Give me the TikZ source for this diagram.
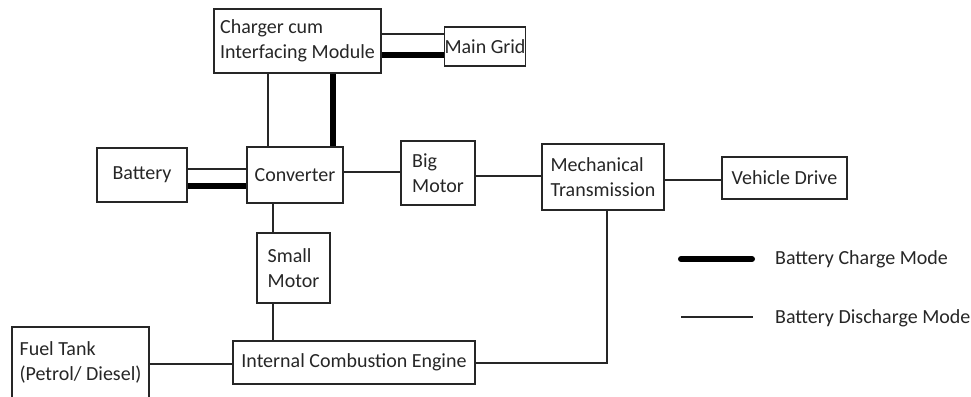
\documentclass[tikz,border=0pt]{standalone}
\usepackage{fontspec}
\setmainfont{Carlito}
\tikzstyle{block}=[draw=black!85,line width=1.2pt,inner sep=0pt,align=left,text=black!85,font=\fontsize{20}{24.5}\selectfont]
\tikzstyle{discharge}=[draw=black!85,line width=1.3pt]
\tikzstyle{charge}=[draw=black,line width=5.5pt]
\tikzstyle{legendtext}=[anchor=west,inner sep=0pt,text=black!85,font=\fontsize{20}{24.5}\selectfont]

\begin{document}
\begin{tikzpicture}[x=1pt,y=1pt]
	\useasboundingbox (0,0) rectangle (971,396);
	% blocks
	\node[block,minimum width=167pt,minimum height=64pt] (charger) at (297.5,355) {Charger cum\\Interfacing Module};
	\node[block,minimum width=80pt,minimum height=39pt] (grid) at (485,349.5) {Main Grid};
	\node[block,minimum width=90pt,minimum height=54pt] (battery) at (142,221) {Battery};
	\node[block,minimum width=96pt,minimum height=56pt] (converter) at (295,221) {Converter};
	\node[block,minimum width=74pt,minimum height=64pt] (bigmotor) at (438,223) {Big\\Motor};
	\node[block,minimum width=122pt,minimum height=66pt] (mechanical) at (603,219) {Mechanical\\Transmission};
	\node[block,minimum width=125pt,minimum height=42pt] (vehicle) at (784.5,218) {Vehicle Drive};
	\node[block,minimum width=73pt,minimum height=70pt] (smallmotor) at (293.5,128) {Small\\Motor};
	\node[block,minimum width=242pt,minimum height=43pt] (engine) at (354,33.5) {Internal Combustion Engine};
	\node[block,minimum width=137pt,minimum height=71pt] (fueltank) at (80.5,33.5) {Fuel Tank\\(Petrol/ Diesel)};

	% discharge mode
	\draw[discharge] ([yshift=7pt]charger.east) -- ([yshift=12.5pt]grid.west);
	\draw[discharge] ([xshift=-29.5pt]charger.south) -- ([xshift=-27pt]converter.north);
	\draw[discharge] ([yshift=6pt]battery.east) -- ([yshift=6pt]converter.west);
	\draw[discharge] ([yshift=3pt]converter.east) -- ([yshift=1pt]bigmotor.west);
	\draw[discharge] ([yshift=-3pt]bigmotor.east) -- ([yshift=1pt]mechanical.west);
	\draw[discharge] ([yshift=-3pt]mechanical.east) -- ([yshift=-2pt]vehicle.west);
	\draw[discharge] ([xshift=-22pt]converter.south) -- ([xshift=-20.5pt]smallmotor.north);
	\draw[discharge] ([xshift=-20.5pt]smallmotor.south) -- ([xshift=-81pt]engine.north);
	\draw[discharge] ([yshift=-1.5pt]fueltank.east) -- ([yshift=-1.5pt]engine.west);
	\draw[discharge] ([yshift=-0.5pt]engine.east) -| ([xshift=4pt]mechanical.south);

	% charge mode
	\draw[charge] ([yshift=-14pt]charger.east) -- ([yshift=-8.5pt]grid.west);
	\draw[charge] ([xshift=35.5pt]charger.south) -- ([xshift=38pt]converter.north);
	\draw[charge] ([yshift=-11pt]battery.east) -- ([yshift=-11pt]converter.west);

	% legend
	\coordinate (chargeA) at (681,137);
	\coordinate (chargeB) at (752,137);
	\coordinate (dischargeA) at (681,79);
	\coordinate (dischargeB) at (753,79);
	\draw[charge,line width=6pt,line cap=round] (chargeA) -- (chargeB);
	\draw[discharge] (dischargeA) -- (dischargeB);
	\node[legendtext] (chargetext) at (775,137) {Battery Charge Mode};
	\node[legendtext] (dischargetext) at (775,78) {Battery Discharge Mode};
\end{tikzpicture}
\end{document}
